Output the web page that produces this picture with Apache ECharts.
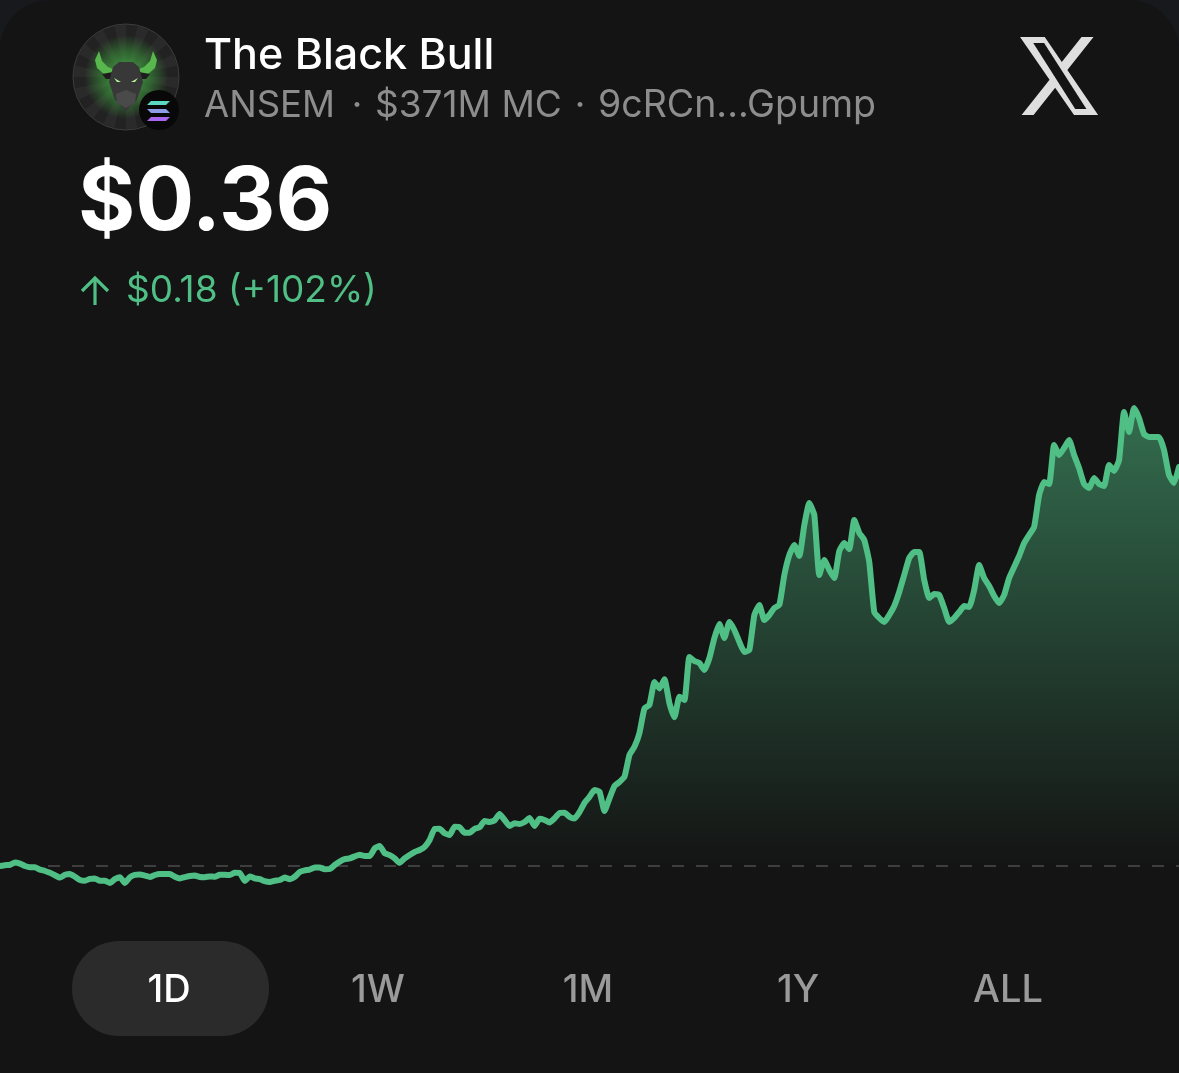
<!DOCTYPE html>
<html>
<head>
<meta charset="utf-8">
<title>The Black Bull</title>
<script src="https://cdn.jsdelivr.net/npm/echarts@6/dist/echarts.min.js"></script>
<style>
  html, body { margin: 0; padding: 0; background: #141414; }
  #main { width: 1179px; height: 1073px; }
</style>
</head>
<body>
<div id="main"></div>
<script>
// percent change from the day's open, one reading about every 6 minutes
var changePct = [
  0,.2,.3,.9,.6,0,-.3,-.3,-.9,-1.25,-1.7,-2.3,-2.9,-2.2,-2,-2.7,-3.5,-3.7,-3.2,-3.1,
  -3.7,-3.7,-4.25,-3.3,-2.8,-4.25,-2.8,-2.2,-2.1,-2.4,-2.75,-2.25,-2,-2,-2,-2.7,-3.1,-2.8,-2.5,-2.4,
  -2.75,-2.8,-2.6,-2.7,-2.2,-2.2,-2.25,-1.7,-1.75,-3.75,-2.6,-3.1,-3.3,-3.8,-4,-3.7,-3.5,-2.9,-3.3,-2.7,
  -1.5,-1.1,-.9,-.4,-.4,-.8,-.75,.25,1.1,1.7,1.9,2.4,2.8,2.5,2.5,4.4,5,3.2,2.7,1.9,
  .8,1.9,2.75,3.5,4,4.8,6.5,9.25,9.3,8.2,7.75,9.8,9.7,8.3,8.3,9.3,9.7,11.25,11,11.4,
  13,11.5,10,10.7,10.5,11,12,10,11.8,11.5,10.9,11.9,13.25,13.3,12.3,11.9,13.5,15.8,17.3,19,
  18.6,13.75,16.9,20,21,22.3,27.75,29.8,33.25,39.4,40.25,46,44.4,46.7,40.7,37.2,42.3,41.5,52.25,51.25,
  50.75,49,52,57,60.5,57,61,59,56,53.5,54,62.75,65.25,61.5,62.75,64.5,65.25,72.75,77.75,80.25,
  77.5,85.25,90.75,87.75,72.75,76.5,74,72,78.75,80.75,79.25,86.5,83.25,81.5,76,63.5,62,61,62.75,65,
  68.5,72.75,77,78.5,78.5,71.5,67,68,67.75,64.5,61,62,63.5,65,64.75,69,75.25,72,70,67.5,
  65.75,67.75,72,74.75,77.5,80.75,82.75,84.75,92.75,96,95.5,105.25,102.75,104.5,106.5,102.75,99.5,95.5,94.5,97,
  95.5,95,100.25,98.75,101.5,113.5,108.5,114.5,112,108,107.25,107.25,107.25,104,97.75,95.75,99.75
];
var sampleIndex = changePct.map(function (v, i) { return i; });
var openLine = changePct.map(function () { return 0; });

var ranges = ['1D', '1W', '1M', '1Y', 'ALL'];
var rangeCenters = [169, 378, 588, 798, 1008];

var GREEN = '#50bf85';
var BG = '#141414';
var FONT = 'Inter, "Noto Sans", sans-serif';

var chart = echarts.init(document.getElementById('main'), null, { renderer: 'canvas' });

function poly(points, fill) {
  return { type: 'polygon', shape: { points: points }, style: { fill: fill } };
}

function label(text, x, y, fill, font, align) {
  return {
    type: 'text', x: x, y: y,
    style: { text: text, fill: fill, font: font + ' ' + FONT, textAlign: align || 'left', textVerticalAlign: 'middle' }
  };
}

// avatar
function avatar() {
  var cx = 126, cy = 77, r = 53, out = [];
  out.push({ type: 'circle', shape: { cx: cx, cy: cy, r: r }, style: { fill: '#222222', stroke: '#3d3d3d', lineWidth: 1 } });
  // sun rays
  for (var i = 0; i < 14; i++) {
    var a0 = (i / 14) * Math.PI * 2;
    out.push({
      type: 'sector',
      shape: { cx: cx, cy: cy, r: r - 1, r0: 0, startAngle: a0, endAngle: a0 + Math.PI / 14 },
      style: { fill: '#303030', opacity: 0.6 }
    });
  }
  out.push({
    type: 'circle',
    shape: { cx: cx, cy: cy, r: 42 },
    style: {
      fill: new echarts.graphic.RadialGradient(0.5, 0.5, 0.5, [
        { offset: 0, color: 'rgba(80,200,80,0.9)' },
        { offset: 0.6, color: 'rgba(60,150,60,0.55)' },
        { offset: 1, color: 'rgba(60,150,60,0)' }
      ])
    }
  });
  // horns
  out.push(poly([[99, 51], [95, 60], [97, 68], [104, 74], [114, 78], [118, 71], [108, 67], [102, 61]], '#58b84e'));
  out.push(poly([[153, 51], [157, 60], [155, 68], [148, 74], [138, 78], [134, 71], [144, 67], [150, 61]], '#58b84e'));
  // ears
  out.push(poly([[102, 74], [113, 72], [113, 79], [106, 79]], '#1d1d1d'));
  out.push(poly([[150, 74], [139, 72], [139, 79], [146, 79]], '#1d1d1d'));
  // head
  out.push(poly([[113, 67], [119, 62], [133, 62], [139, 67], [143, 82], [137, 100], [126, 111], [115, 100], [109, 82]], '#383838'));
  out.push(poly([[116, 94], [126, 90], [136, 94], [135, 103], [126, 108], [117, 103]], '#4a4a4a'));
  // eyes
  out.push(poly([[114, 78], [121, 82], [117, 82]], '#b4f59a'));
  out.push(poly([[138, 78], [131, 82], [135, 82]], '#b4f59a'));
  // solana badge
  out.push({ type: 'circle', shape: { cx: 159, cy: 110, r: 20 }, style: { fill: '#080808' } });
  out.push(poly([[151, 101], [170, 101], [166, 105], [147, 105]], '#5ad8c0'));
  out.push(poly([[147, 109], [166, 109], [170, 113], [151, 113]], '#8f9ce6'));
  out.push(poly([[151, 117], [170, 117], [166, 121], [147, 121]], '#a866ee'));
  return out;
}

// header texts, x logo, range buttons
function chrome() {
  var out = [];
  out.push(label('The Black Bull', 204, 56, '#ffffff', '500 43px'));
  out.push(label('ANSEM', 204, 106, '#8d8d8d', '400 36.5px'));
  out.push(label('·', 357, 106, '#8d8d8d', '400 36.5px', 'center'));
  out.push(label('$371M MC', 375, 106, '#8d8d8d', '400 37px'));
  out.push(label('·', 580, 106, '#8d8d8d', '400 36.5px', 'center'));
  out.push(label('9cRCn...Gpump', 598, 106, '#8d8d8d', '400 37.5px'));
  out.push(label('$0.36', 78, 204, '#ffffff', '700 87.5px'));
  out.push(label('$0.18 (+102%)', 126, 291, GREEN, '400 37px'));
  // up arrow
  out.push({ type: 'polyline', shape: { points: [[95, 305], [95, 279]] }, style: { stroke: GREEN, lineWidth: 3.2, fill: null } });
  out.push({ type: 'polyline', shape: { points: [[82, 291], [95, 278], [108, 291]] }, style: { stroke: GREEN, lineWidth: 3.2, fill: null } });
  // x logo
  out.push({
    type: 'polygon', x: 1015.5, y: 28, scaleX: 3.62, scaleY: 4,
    shape: { points: [[18.244, 2.25], [21.552, 2.25], [14.325, 10.51], [22.827, 21.75], [16.17, 21.75], [10.956, 14.933], [4.99, 21.75], [1.68, 21.75], [9.41, 12.915], [1.254, 2.25], [8.08, 2.25], [12.793, 8.481]] },
    style: { fill: '#dedede' }
  });
  out.push({
    type: 'polygon', x: 1015.5, y: 28, scaleX: 3.62, scaleY: 4,
    shape: { points: [[4.9, 3.75], [7.9, 3.75], [19.6, 20.25], [16.5, 20.25]] },
    style: { fill: BG }
  });
  // selected range pill
  out.push({ type: 'rect', shape: { x: 72, y: 941, width: 197, height: 95, r: 47 }, style: { fill: '#2b2b2b' } });
  ranges.forEach(function (name, i) {
    out.push(label(name, rangeCenters[i], 991, i === 0 ? '#ffffff' : '#9a9a9a', '500 38px', 'center'));
  });
  return out;
}

var card = [{ type: 'rect', shape: { x: 0, y: 0, width: 1179, height: 1073, r: [50, 50, 0, 0] }, style: { fill: BG } }];

var option = {
  animation: false,
  backgroundColor: '#17191d',
  grid: { left: 0, top: 366, width: 1180, height: 540 },
  xAxis: { type: 'category', data: sampleIndex, boundaryGap: false, show: false },
  yAxis: { type: 'value', min: -10, max: 125, show: false },
  graphic: { elements: card.concat(avatar(), chrome()) },
  series: [
    {
      name: 'open',
      type: 'line',
      data: openLine,
      symbol: 'none',
      silent: true,
      z: 1,
      lineStyle: { color: '#4c4c4c', width: 1.5, type: [12, 12] }
    },
    {
      name: 'change',
      type: 'line',
      data: changePct,
      symbol: 'none',
      smooth: 0.15,
      z: 2,
      lineStyle: { color: GREEN, width: 6, join: 'round', cap: 'round' },
      areaStyle: {
        origin: 0,
        color: new echarts.graphic.LinearGradient(0, 420, 0, 866, [
          { offset: 0, color: 'rgba(80,192,133,0.5)' },
          { offset: 1, color: 'rgba(80,192,133,0)' }
        ], true),
        opacity: 1
      }
    }
  ]
};

chart.setOption(option);
</script>
</body>
</html>
